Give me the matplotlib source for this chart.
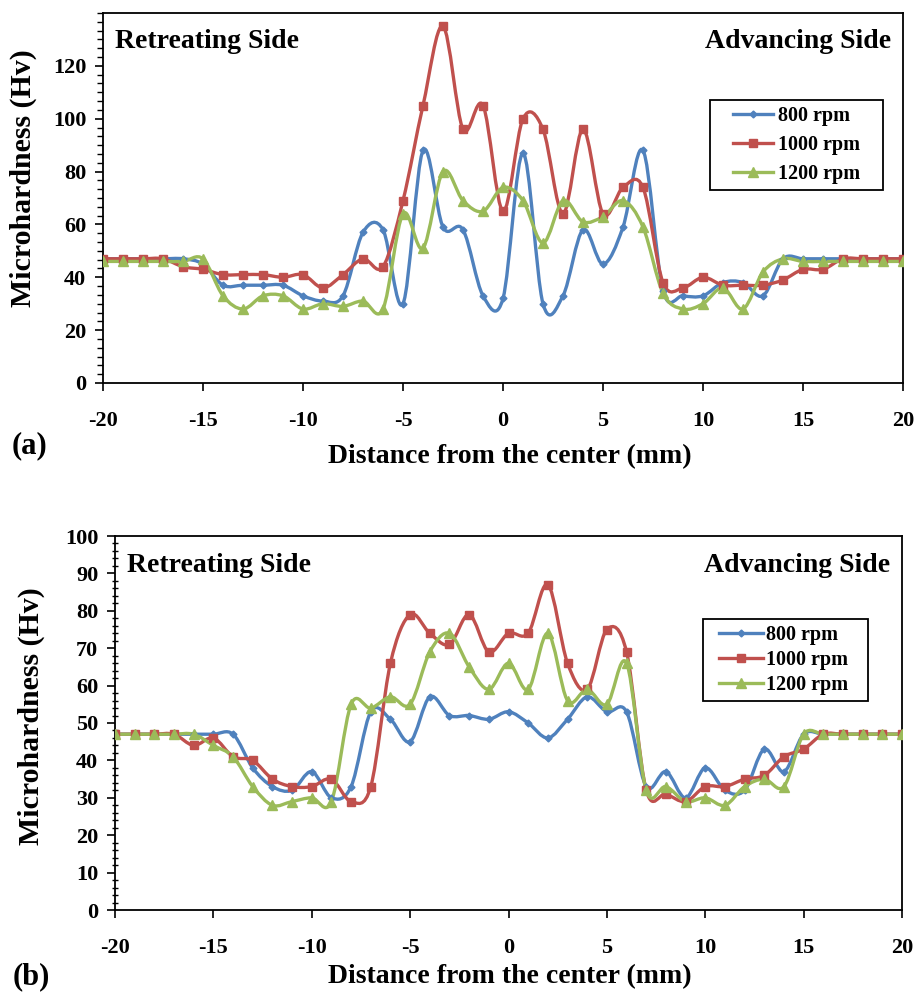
import numpy as np
import matplotlib.pyplot as plt
from matplotlib.path import Path
from matplotlib.patches import PathPatch
from matplotlib.lines import Line2D
from matplotlib.legend_handler import HandlerLine2D
from matplotlib.ticker import MultipleLocator

plt.rcParams['font.family'] = ['Liberation Serif', 'DejaVu Serif']
plt.rcParams['font.weight'] = 'bold'
plt.rcParams['axes.unicode_minus'] = False

# distance from the center (mm)
dist = list(range(-20, 21))

# (a) microhardness (Hv)
a_800 = [47, 47, 47, 47, 47, 45, 37, 37, 37, 37, 33, 31, 33, 57, 58, 30, 88, 59, 58, 33, 32,
         87, 30, 33, 58, 45, 59, 88, 35, 33, 33, 38, 38, 33, 47, 47, 47, 47, 47, 47, 47]
a_1000 = [47, 47, 47, 47, 44, 43, 41, 41, 41, 40, 41, 36, 41, 47, 44, 69, 105, 135, 96, 105, 65,
          100, 96, 64, 96, 64, 74, 74, 38, 36, 40, 37, 37, 37, 39, 43, 43, 47, 47, 47, 47]
a_1200 = [46, 46, 46, 46, 46, 47, 33, 28, 33, 33, 28, 30, 29, 31, 28, 64, 51, 80, 69, 65, 74,
          69, 53, 69, 61, 63, 69, 59, 34, 28, 30, 36, 28, 42, 47, 46, 46, 46, 46, 46, 46]

# (b) microhardness (Hv)
b_800 = [47, 47, 47, 47, 47, 47, 47, 38, 33, 32, 37, 30, 33, 53, 51, 45, 57, 52, 52, 51, 53,
         50, 46, 51, 57, 53, 53, 33, 37, 30, 38, 32, 32, 43, 37, 47, 47, 47, 47, 47, 47]
b_1000 = [47, 47, 47, 47, 44, 46, 41, 40, 35, 33, 33, 35, 29, 33, 66, 79, 74, 71, 79, 69, 74,
          74, 87, 66, 59, 75, 69, 32, 31, 29, 33, 33, 35, 36, 41, 43, 47, 47, 47, 47, 47]
b_1200 = [47, 47, 47, 47, 47, 44, 41, 33, 28, 29, 30, 29, 55, 54, 57, 55, 69, 74, 65, 59, 66,
          59, 74, 56, 59, 55, 66, 32, 33, 29, 30, 28, 33, 35, 33, 47, 47, 47, 47, 47, 47]

names = ['800 rpm', '1000 rpm', '1200 rpm']
colors = ['#4F81BD', '#C0504D', '#9BBB59']
markers = ['D', 's', '^']
msizes = [3.5, 6, 7.5]

W, H = 917, 992


def smooth(ax, x, y, color):
    # Excel style smoothed line: cubic bezier between the points
    x = np.asarray(x, float)
    y = np.asarray(y, float)
    n = len(x)
    verts = [(x[0], y[0])]
    codes = [Path.MOVETO]
    for i in range(n - 1):
        j0 = max(i - 1, 0)
        j3 = min(i + 2, n - 1)
        c1 = (x[i] + (x[i + 1] - x[j0]) / 6, y[i] + (y[i + 1] - y[j0]) / 6)
        c2 = (x[i + 1] - (x[j3] - x[i]) / 6, y[i + 1] - (y[j3] - y[i]) / 6)
        verts += [c1, c2, (x[i + 1], y[i + 1])]
        codes += [Path.CURVE4] * 3
    ax.add_patch(PathPatch(Path(verts, codes), fill=False, edgecolor=color,
                           lw=2.4, capstyle='round', joinstyle='round', zorder=2))


def panel(rect, series, ymax, yticks, yminor, minor_dir, leg_box, leg_space, hl, xpad, htp):
    l, t, r, b = rect
    ax = fig.add_axes([l / W, 1 - b / H, (r - l) / W, (b - t) / H])
    for vals, c, m, s in zip(series, colors, markers, msizes):
        smooth(ax, dist, vals, c)
        ax.plot(dist, vals, ls='none', marker=m, ms=s, color=c, mec=c, zorder=3)
    ax.set_xlim(-20, 20)
    ax.set_ylim(0, ymax)
    ax.set_xticks(range(-20, 21, 5))
    ax.set_yticks(yticks)
    ax.yaxis.set_minor_locator(MultipleLocator(yminor))
    ax.tick_params(axis='both', which='major', direction='out', length=6, width=1.2,
                   labelsize=16)
    ax.tick_params(axis='x', pad=14)
    ax.tick_params(axis='y', pad=6)
    ax.tick_params(axis='y', which='minor', direction=minor_dir, length=4, width=1.0)
    for sp in ax.spines.values():
        sp.set_linewidth(1.3)
    ax.text(0.015, 0.905, 'Retreating Side', transform=ax.transAxes, fontsize=20,
            ha='left', va='baseline')
    ax.text(0.985, 0.905, 'Advancing Side', transform=ax.transAxes, fontsize=20,
            ha='right', va='baseline')

    # legend box given in pixels (left, top, right)
    bl, bt, br = leg_box
    x0 = (bl - l) / (r - l)
    w = (br - bl) / (r - l)
    ytop = 1 - (bt - t) / (b - t)
    handles = [Line2D([], [], color=c, marker=m, ms=s, lw=2.4)
               for c, m, s in zip(colors, markers, msizes)]
    leg = ax.legend(handles, names, loc='upper left', bbox_to_anchor=(x0, ytop - 0.4, w, 0.4),
                    mode='expand', borderaxespad=0, fontsize=14.5, handlelength=hl,
                    handletextpad=htp, labelspacing=leg_space, borderpad=0.3,
                    fancybox=False, framealpha=1,
                    handler_map={Line2D: HandlerLine2D(xpad=xpad)})
    leg.get_frame().set_edgecolor('black')
    leg.get_frame().set_linewidth(1.3)
    return ax


fig = plt.figure(figsize=(W / 100, H / 100), dpi=100)

ax1 = panel((103, 13, 903, 383), [a_800, a_1000, a_1200], 140, range(0, 121, 20), 20 / 6,
            'out', (710, 100, 883), 0.45, 2.85, 0.85, 0.25)
ax2 = panel((115, 536, 902, 910), [b_800, b_1000, b_1200], 100, range(0, 101, 10), 2,
            'inout', (703, 619, 868), 0.25, 2.7, 0.5, 0.15)

fig.text(23 / W, 1 - 178 / H, 'Microhardness (Hv)', rotation=90, fontsize=21.5,
         ha='center', va='center')
fig.text(31 / W, 1 - 716 / H, 'Microhardness (Hv)', rotation=90, fontsize=21.5,
         ha='center', va='center')
fig.text(510 / W, 1 - 457 / H, 'Distance from the center (mm)', fontsize=20,
         ha='center', va='center')
fig.text(510 / W, 1 - 977 / H, 'Distance from the center (mm)', fontsize=20,
         ha='center', va='center')
fig.text(12 / W, 1 - 446 / H, '(a)', fontsize=22, ha='left', va='center')
fig.text(13 / W, 1 - 977 / H, '(b)', fontsize=22, ha='left', va='center')

fig.savefig('out.png', dpi=100)
